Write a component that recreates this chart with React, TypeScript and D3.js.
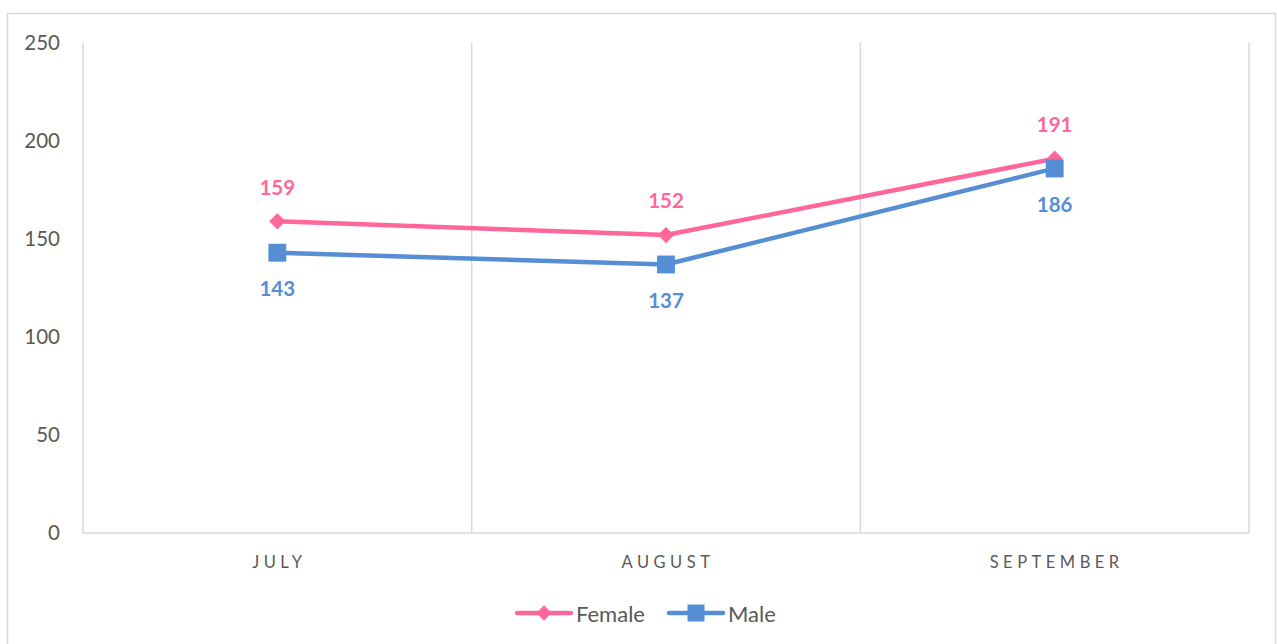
import React, { useEffect, useRef } from 'react';
import * as d3 from 'd3';

const months = ['JULY', 'AUGUST', 'SEPTEMBER'];
const female = [159, 152, 191];
const male = [143, 137, 186];
const yTicks = [0, 50, 100, 150, 200, 250];

const PINK = '#ff6699';
const BLUE = '#558ed5';
const FONT = 'Lato, "Open Sans", sans-serif';

const Chart: React.FC = () => {
  const svgRef = useRef<SVGSVGElement>(null);

  useEffect(() => {
    if (!svgRef.current) return;
    const svg = d3.select(svgRef.current);
    svg.selectAll('*').remove();

    const width = 1277;
    const height = 644;
    const left = 83, right = 1249, top = 43, bottom = 533;

    svg.attr('width', width).attr('height', height);

    // outer frame
    svg.append('rect')
      .attr('x', 7.5).attr('y', 13.5)
      .attr('width', 1268).attr('height', 660)
      .attr('fill', 'white')
      .attr('stroke', '#d9d9d9')
      .attr('stroke-width', 1.5);

    const x = d3.scaleBand<string>().domain(months).range([left, right]);
    const y = d3.scaleLinear().domain([0, 250]).range([bottom, top]);
    const cx = (m: string) => (x(m) || 0) + x.bandwidth() / 2;

    // vertical category grid lines
    const bounds = months.map(m => x(m) || 0).concat([right]);
    svg.append('g').selectAll('line')
      .data(bounds)
      .enter().append('line')
      .attr('x1', d => d).attr('x2', d => d)
      .attr('y1', top).attr('y2', bottom)
      .attr('stroke', '#d9d9d9').attr('stroke-width', 1.5);

    // x axis baseline
    svg.append('line')
      .attr('x1', left).attr('x2', right)
      .attr('y1', bottom).attr('y2', bottom)
      .attr('stroke', '#d9d9d9').attr('stroke-width', 1.5);

    // y tick labels
    svg.append('g').selectAll('text')
      .data(yTicks)
      .enter().append('text')
      .attr('x', 60).attr('y', d => y(d))
      .attr('dy', '0.35em')
      .attr('text-anchor', 'end')
      .style('font-family', FONT)
      .style('font-size', '20.5px')
      .style('fill', '#595959')
      .text(d => d);

    // x labels
    svg.append('g').selectAll('text')
      .data(months)
      .enter().append('text')
      .attr('x', d => cx(d) + 2).attr('y', 562)
      .attr('dy', '0.35em')
      .attr('text-anchor', 'middle')
      .style('font-family', FONT)
      .style('font-size', '16.5px')
      .style('letter-spacing', '4.5px')
      .style('fill', '#595959')
      .text(d => d);

    const line = d3.line<number>()
      .x((_, i) => cx(months[i]))
      .y(d => y(d));

    const drawSeries = (vals: number[], color: string, shape: 'diamond' | 'square', labelDy: number) => {
      svg.append('path')
        .datum(vals)
        .attr('d', line)
        .attr('fill', 'none')
        .attr('stroke', color)
        .attr('stroke-width', 4.5)
        .attr('stroke-linejoin', 'round');

      const sym = d3.symbol()
        .type(shape === 'diamond' ? d3.symbolDiamond2 : d3.symbolSquare)
        .size(shape === 'diamond' ? 170 : 320);
      svg.append('g').selectAll('path')
        .data(vals)
        .enter().append('path')
        .attr('d', sym)
        .attr('transform', (d, i) => `translate(${cx(months[i])},${y(d)})`)
        .attr('fill', color);

      svg.append('g').selectAll('text')
        .data(vals)
        .enter().append('text')
        .attr('x', (_, i) => cx(months[i]))
        .attr('y', d => y(d) + labelDy)
        .attr('dy', '0.35em')
        .attr('text-anchor', 'middle')
        .style('font-family', FONT)
        .style('font-size', '20.5px')
        .style('font-weight', 'bold')
        .style('fill', color)
        .text(d => d);
    };

    drawSeries(female, PINK, 'diamond', -34);
    drawSeries(male, BLUE, 'square', 36);

    // legend
    const legend = [
      { label: 'Female', color: PINK, shape: 'diamond', x: 517 },
      { label: 'Male', color: BLUE, shape: 'square', x: 669 },
    ];
    const lg = svg.append('g');
    legend.forEach(l => {
      lg.append('line')
        .attr('x1', l.x).attr('x2', l.x + 54)
        .attr('y1', 613).attr('y2', 613)
        .attr('stroke', l.color).attr('stroke-width', 4.5)
        .attr('stroke-linecap', 'round');
      lg.append('path')
        .attr('d', d3.symbol()
          .type(l.shape === 'diamond' ? d3.symbolDiamond2 : d3.symbolSquare)
          .size(l.shape === 'diamond' ? 150 : 290)())
        .attr('transform', `translate(${l.x + 27},613)`)
        .attr('fill', l.color);
      lg.append('text')
        .attr('x', l.x + 59).attr('y', 614)
        .attr('dy', '0.35em')
        .style('font-family', FONT)
        .style('font-size', '22px')
        .style('fill', '#595959')
        .text(l.label);
    });
  }, []);

  return (
    <div style={{ position: 'absolute', left: 0, top: 0, width: 1277, height: 644, overflow: 'hidden', background: 'white' }}>
      <svg ref={svgRef} style={{ display: 'block' }} />
    </div>
  );
};

export default function App() {
  return <Chart />;
}
